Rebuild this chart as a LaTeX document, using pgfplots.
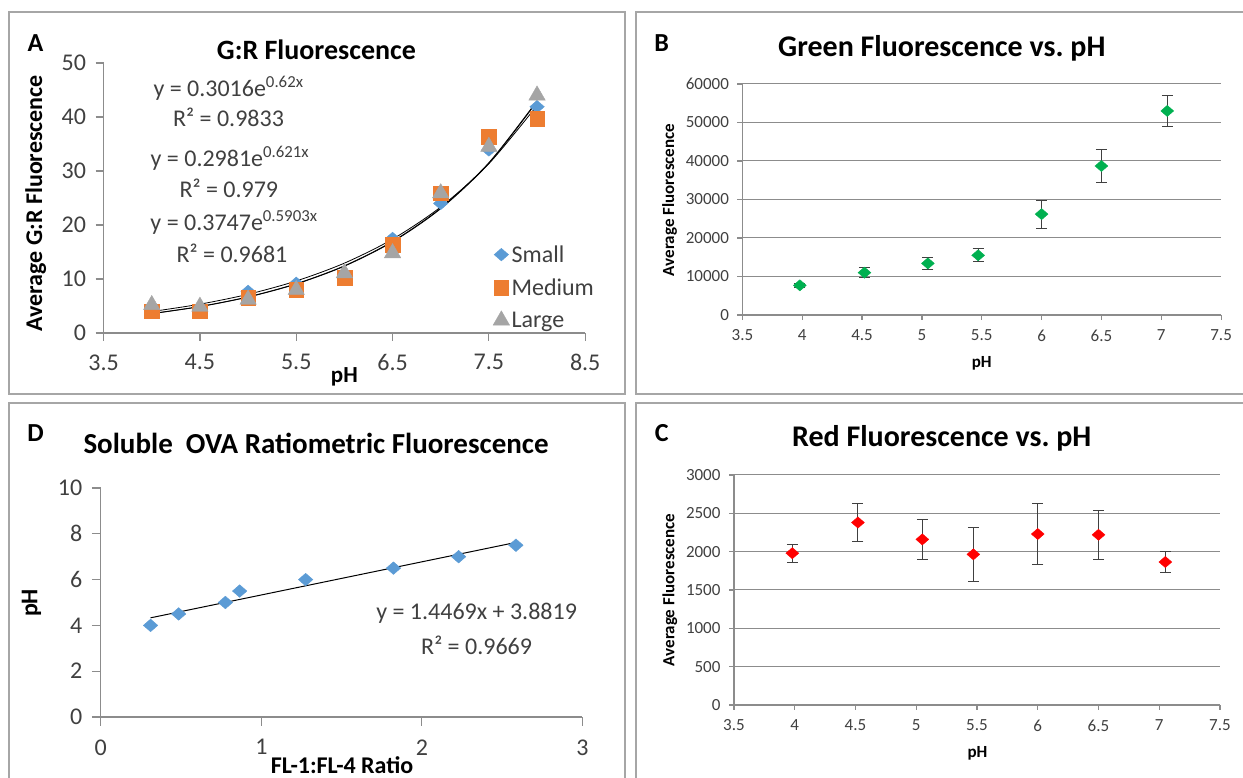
\documentclass[border=0pt]{standalone}
\usepackage{fontspec}
\setmainfont{Carlito}
\usepackage{pgfplots}
\pgfplotsset{compat=1.18}

\definecolor{axgray}{HTML}{8C8C8C}
\definecolor{panelgray}{HTML}{A6A6A6}
\definecolor{ticktext}{HTML}{404040}
\definecolor{xlblue}{HTML}{5B9BD5}
\definecolor{xlorange}{HTML}{ED7D31}
\definecolor{xlgray}{HTML}{A5A5A5}
\definecolor{xlgreen}{HTML}{00B050}
\definecolor{xlred}{HTML}{FF0000}

\newcommand\fs[1]{\fontsize{#1}{#1}\selectfont}

% Excel-like diamond, a bit wider than tall
\pgfdeclareplotmark{xldiam}{%
  \pgfpathmoveto{\pgfqpoint{0pt}{\pgfplotmarksize}}%
  \pgfpathlineto{\pgfqpoint{1.15\pgfplotmarksize}{0pt}}%
  \pgfpathlineto{\pgfqpoint{0pt}{-\pgfplotmarksize}}%
  \pgfpathlineto{\pgfqpoint{-1.15\pgfplotmarksize}{0pt}}%
  \pgfpathclose
  \pgfusepathqfillstroke}

% panel A: G:R ratio by particle size
\pgfplotstableread{
x    small medium large
4    4.6   4.0    5.2
4.5  4.6   4.0    4.9
5    7.7   6.5    6.2
5.5  9.2   8.0    8.0
6    10.8  10.2   11.1
6.5  17.5  16.3   14.8
7    24.0  25.9   25.9
7.5  33.9  36.3   34.5
8    41.9  39.7   44.0
}\grdata

% exponential trendlines (values at the half steps)
\pgfplotstableread{
x    t1     t2     t3
4    3.601  3.574  3.973
4.5  4.910  4.875  5.338
5    6.695  6.650  7.170
5.5  9.128  9.072  9.632
6    12.445 12.375 12.938
6.5  16.968 16.881 17.380
7    23.135 23.027 23.347
7.5  31.543 31.411 31.362
8    43.005 42.849 42.128
}\grtrend

\pgfplotstableread{
x     y      err
3.98  7700   600
4.52  11000  1300
5.05  13400  1500
5.47  15500  1700
6.0   26200  3600
6.5   38700  4200
7.05  53000  3900
}\green

\pgfplotstableread{
x     y     err
3.98  1980  120
4.52  2380  250
5.05  2160  265
5.47  1965  355
6.0   2230  395
6.5   2220  320
7.05  1865  140
}\red

\pgfplotstableread{
x      y
0.31   4.0
0.485  4.5
0.776  5.0
0.865  5.5
1.276  6.0
1.823  6.5
2.229  7.0
2.586  7.5
}\ova

\pgfplotsset{
  xlbase/.style={
    scale only axis,
    axis x line*=bottom, axis y line*=left,
    axis line style={axgray, line width=1.2pt, -},
    tick align=outside,
    tick style={axgray, line width=1.2pt},
    /pgf/number format/assume math mode=true,
    /pgf/number format/1000 sep={},
    tick label style={text=ticktext},
    clip=false,
  },
  bigpanel/.style={
    xlbase,
    major tick length=8pt,
    tick label style={font=\fs{24}},
    xticklabel style={yshift=-10pt},
    yticklabel style={xshift=-6pt},
    title style={font=\bfseries\fs{28}, anchor=center},
    label style={font=\bfseries\fs{24}},
  },
  smallpanel/.style={
    xlbase,
    major tick length=5pt,
    tick label style={font=\fs{17}},
    xticklabel style={yshift=-6pt},
    yticklabel style={xshift=-5pt},
    ymajorgrids, grid style={axgray, line width=1pt},
    title style={font=\bfseries\fs{30}, anchor=center},
    label style={font=\bfseries\fs{17}},
    xmin=3.5, xmax=7.5, xtick={3.5,4,...,7.5},
    xlabel={pH}, ylabel={Average Fluorescence},
  },
  errstyle/.style={
    error bars/.cd, y dir=both, y explicit,
    error bar style={black!75, line width=0.9pt},
    error mark options={rotate=90, black!75, line width=0.9pt, mark size=5.5pt},
  },
}

\begin{document}
\begin{tikzpicture}[x=1pt,y=1pt]
\useasboundingbox (0,0) rectangle (1243,778);

% panel frames
\draw[panelgray, line width=1.6pt] (9,766) rectangle (625,384);
\draw[panelgray, line width=1.6pt] (636,766) rectangle (1260,384);
\draw[panelgray, line width=1.6pt] (9,375) rectangle (625,-20);
\draw[panelgray, line width=1.6pt] (636,375) rectangle (1260,-20);

% ---------- A ----------
\begin{axis}[bigpanel,
  at={(103.6pt,445pt)}, anchor=south west,
  width=481.6pt, height=270pt,
  xmin=3.5, xmax=8.5, ymin=0, ymax=50,
  xtick={3.5,4.5,5.5,6.5,7.5,8.5}, ytick={0,10,...,50},
  title={G:R Fluorescence}, title style={at={(axis description cs:0.442,1.026)}},
  xlabel={pH}, xlabel style={at={(axis description cs:0.5,-0.163)}, anchor=center, font=\bfseries\fs{23}},
  ylabel={Average G:R Fluorescence}, ylabel style={at={(axis description cs:-0.141,0.481)}, anchor=center},
  legend style={at={(axis cs:7.542,16.6)}, anchor=north west, draw=none, fill=none,
    font=\fs{24}, text=ticktext, row sep=11pt, inner sep=0pt,
    nodes={inner sep=2pt}},
  legend cell align=left,
  legend image code/.code={\draw[mark repeat=2,mark phase=2,#1] plot coordinates {(0pt,0pt) (9pt,0pt) (16pt,0pt)};},
]
\addplot[only marks, mark=xldiam, mark size=6.3pt, mark options={fill=xlblue, draw=xlblue}] table[x=x,y=small] {\grdata};
\addlegendentry{Small}
\addplot[only marks, mark=square*, mark size=7.3pt, mark options={fill=xlorange, draw=xlorange}] table[x=x,y=medium] {\grdata};
\addlegendentry{Medium}
\addplot[only marks, mark=triangle*, mark size=9.5pt, mark options={fill=xlgray, draw=xlgray}] table[x=x,y=large] {\grdata};
\addlegendentry{Large}
\addplot[black, line width=0.8pt, smooth, forget plot] table[x=x,y=t1] {\grtrend};
\addplot[black, line width=0.8pt, smooth, forget plot] table[x=x,y=t2] {\grtrend};
\addplot[black, line width=0.8pt, smooth, forget plot] table[x=x,y=t3] {\grtrend};
\node[font=\fs{24}, text=ticktext] at (axis cs:4.797,45.4) {y = 0.3016e\textsuperscript{0.62x}};
\node[font=\fs{24}, text=ticktext] at (axis cs:4.797,40.0) {R² = 0.9833};
\node[font=\fs{24}, text=ticktext] at (axis cs:4.812,32.4) {y = 0.2981e\textsuperscript{0.621x}};
\node[font=\fs{24}, text=ticktext] at (axis cs:4.80,26.85) {R² = 0.979};
\node[font=\fs{24}, text=ticktext] at (axis cs:4.854,20.4) {y = 0.3747e\textsuperscript{0.5903x}};
\node[font=\fs{24}, text=ticktext] at (axis cs:4.833,14.8) {R² = 0.9681};
\end{axis}
\node[font=\bfseries\fs{26}] at (35.6,735) {A};

% ---------- B ----------
\begin{axis}[smallpanel,
  at={(742.4pt,463pt)}, anchor=south west,
  width=478.7pt, height=231pt,
  ymin=0, ymax=60000, ytick={0,10000,...,60000},
  scaled y ticks=false,
  title={Green Fluorescence vs.\ pH}, title style={at={(axis description cs:0.4166,1.130)}},
  xlabel style={at={(axis description cs:0.5,-0.208)}, anchor=center},
  ylabel style={at={(axis description cs:-0.152,0.498)}, anchor=center},
]
\addplot[only marks, mark=xldiam, mark size=5.6pt, mark options={fill=xlgreen, draw=xlgreen}, errstyle]
  table[x=x, y=y, y error=err] {\green};
\end{axis}
\node[font=\bfseries\fs{26}] at (661.7,735) {B};

% ---------- C ----------
\begin{axis}[smallpanel,
  at={(734pt,73pt)}, anchor=south west,
  width=486pt, height=230pt,
  ymin=0, ymax=3000, ytick={0,500,...,3000},
  title={Red Fluorescence vs.\ pH}, title style={at={(axis description cs:0.4276,1.135)}},
  xlabel style={at={(axis description cs:0.501,-0.209)}, anchor=center},
  ylabel style={at={(axis description cs:-0.132,0.5)}, anchor=center},
]
\addplot[only marks, mark=xldiam, mark size=5.6pt, mark options={fill=xlred, draw=xlred}, errstyle]
  table[x=x, y=y, y error=err] {\red};
\end{axis}
\node[font=\bfseries\fs{26}] at (661.7,345) {C};

% ---------- D ----------
\begin{axis}[bigpanel,
  at={(100.8pt,61pt)}, anchor=south west,
  width=481.6pt, height=229pt,
  xmin=0, xmax=3, ymin=0, ymax=10,
  xtick={0,1,2,3}, ytick={0,2,...,10},
  major tick length=9pt,
  title={Soluble~ OVA Ratiometric Fluorescence}, title style={at={(axis description cs:0.447,1.170)}, font=\bfseries\fs{29}},
  xlabel={FL-1:FL-4 Ratio}, xlabel style={at={(axis description cs:0.501,-0.21)}, anchor=center},
  ylabel={pH}, ylabel style={at={(axis description cs:-0.144,0.498)}, anchor=center},
]
\addplot[only marks, mark=xldiam, mark size=6.3pt, mark options={fill=xlblue, draw=xlblue}] table[x=x,y=y] {\ova};
\addplot[black, line width=1pt] coordinates {(0.31,4.3304) (2.586,7.6236)};
\node[font=\fs{24}, text=ticktext] at (axis cs:2.341,4.54) {y = 1.4469x + 3.8819};
\node[font=\fs{24}, text=ticktext] at (axis cs:2.341,3.14) {R² = 0.9669};
\end{axis}
\node[font=\bfseries\fs{26}] at (35.6,345) {D};
\end{tikzpicture}
\end{document}
